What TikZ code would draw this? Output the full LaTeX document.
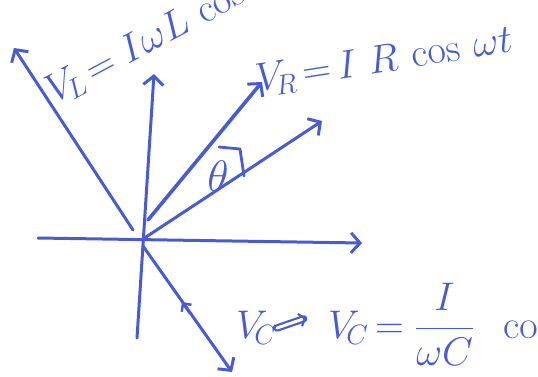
\RequirePackage{fix-cm}
\documentclass[tikz,border=0pt]{standalone}
\usepackage{amsmath}
\usetikzlibrary{arrows.meta}
\definecolor{pen}{RGB}{72,92,208}
\begin{document}
\begin{tikzpicture}[x=1pt,y=-1pt,
  ink/.style={draw=pen,line width=3pt,line cap=round,line join=round},
  tip/.style={-{Straight Barb[length=9pt,width=20pt,line width=3pt]}},
  lbl/.style={text=pen,inner sep=0pt,font=\fontsize{40}{40}\selectfont}]
\useasboundingbox (0,0) rectangle (538,376);
\clip (0,0) rectangle (538,376);
% coordinates
\coordinate (O) at (143,240);
\coordinate (axL) at (38,238);
\coordinate (axR) at (362,243);
\coordinate (axB) at (137,338);
\coordinate (axT) at (154,74);
\coordinate (vLs) at (133,230);
\coordinate (vLe) at (14,48);
\coordinate (vRs) at (148,220);
\coordinate (vRe) at (262,82);
\coordinate (Is) at (146,237);
\coordinate (Ie) at (322,121);
\coordinate (vCs) at (143,246);
\coordinate (vCe) at (232,372);
\coordinate (mkS) at (190,313);
\coordinate (mkE) at (182,302);
% axes
\draw[ink,tip] (axL) -- (axR);
\draw[ink,tip] (axB) -- (axT);
% phasors
\draw[ink,tip] (vLs) -- (vLe);
\draw[ink,line width=3.6pt,tip] (vRs) -- (vRe);
\draw[ink,tip] (Is) -- (Ie);
\draw[ink,tip] (vCs) -- (vCe);
\draw[ink,-{Straight Barb[length=6pt,width=12pt,line width=2.5pt]}] (mkS) -- (mkE);
% angle
\node[lbl,font=\fontsize{44}{44}\selectfont] (th) at (218,176) {$\theta$};
\draw[ink,line width=2.8pt] (219,147) -- (240,149) -- (244,176);
% labels
\node[lbl,anchor=base west,rotate=28] (lL) at (54,104) {$V_{\!L}\,{=}\;I\omega L\,\cos\omega t$};
\node[lbl,anchor=base west,rotate=9] (lR) at (258,92) {$V_{\!R}\,{=}\,I\;R\,\cos\,\omega t$};
\node[lbl,anchor=base west] (lC1) at (236,338) {$V_{\!C}$};
\draw[ink,line width=2.2pt,-{Straight Barb[length=5pt,width=13pt,line width=2.2pt]},double=white,double distance=3pt] (277,328) -- (306,318);
\node[lbl,anchor=base west] (lC2) at (328,338) {$V_{\!C}\,{=}\;\dfrac{I}{\omega C}\;\;\cos\omega t$};
\end{tikzpicture}
\end{document}
